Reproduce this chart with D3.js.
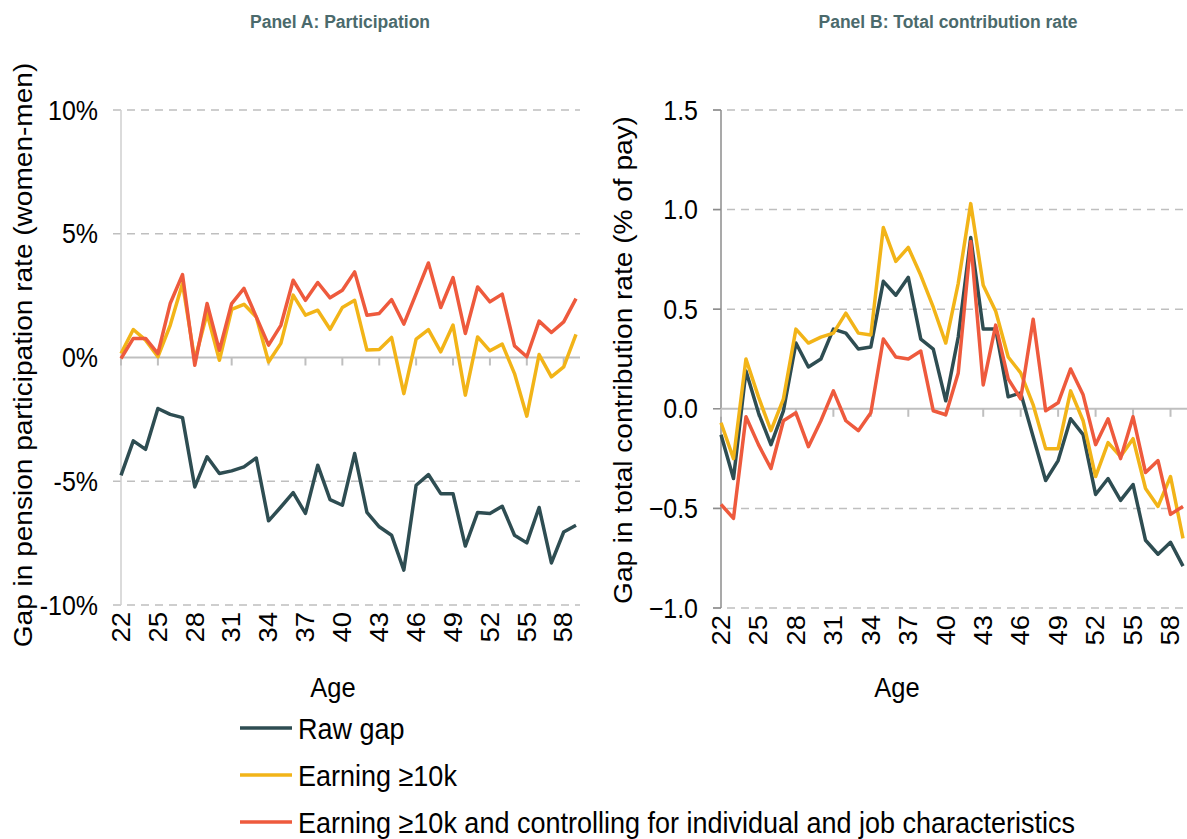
<!DOCTYPE html>
<meta charset="utf-8">
<style>
    body { margin: 0; background: #fff; }
    text { font-family: "Liberation Sans", Arial, sans-serif; fill: #000; }
    .title { font-weight: bold; font-size: 17.5px; fill: #4b6a6c; }
    .tick-label { font-size: 25px; }
    .axis-title { font-size: 25.5px; }
    .legend text { font-size: 27px; }
    .grid { stroke: #bfbfbf; stroke-width: 1.5px; stroke-dasharray: 8,6; }
    .series { fill: none; stroke-width: 3.5px; stroke-linejoin: round; }
</style>
<svg width="1187" height="839"></svg>
<script src="https://d3js.org/d3.v7.min.js"></script>
<script>

    var ages = d3.range(22, 60);
    var tickAges = [22, 25, 28, 31, 34, 37, 40, 43, 46, 49, 52, 55, 58];

    // Panel A: participation gap (percentage points)
    var partRaw = [-4.76, -3.37, -3.71, -2.06, -2.3, -2.43, -5.23, -4.01, -4.69, -4.58,
        -4.42, -4.06, -6.6, -6.04, -5.46, -6.3, -4.35, -5.74, -5.97, -3.88,
        -6.26, -6.84, -7.18, -8.59, -5.16, -4.73, -5.5, -5.5, -7.62, -6.26,
        -6.3, -6.01, -7.18, -7.49, -6.06, -8.3, -7.05, -6.78];
    var partEarn = [0.16, 1.13, 0.7, 0.03, 1.3, 2.99, -0.1, 1.78, -0.11, 1.94,
        2.15, 1.64, -0.18, 0.57, 2.52, 1.71, 1.91, 1.14, 2.02, 2.31,
        0.3, 0.32, 0.81, -1.46, 0.74, 1.13, 0.23, 1.31, -1.52, 0.83,
        0.27, 0.54, -0.65, -2.37, 0.12, -0.78, -0.38, 0.93];
    var partCtrl = [-0.04, 0.77, 0.77, 0.16, 2.18, 3.35, -0.31, 2.18, 0.29, 2.18,
        2.79, 1.64, 0.5, 1.3, 3.12, 2.31, 3.03, 2.41, 2.72, 3.46,
        1.71, 1.78, 2.34, 1.35, 2.58, 3.82, 2.02, 3.23, 0.97, 2.85,
        2.25, 2.56, 0.47, 0.03, 1.47, 1.01, 1.44, 2.38];

    // Panel B: total contribution rate gap (% of pay)
    var contRaw = [-0.13, -0.35, 0.19, -0.02, -0.18, -0.01, 0.33, 0.21, 0.25, 0.4,
        0.38, 0.3, 0.31, 0.64, 0.57, 0.66, 0.35, 0.3, 0.04, 0.36,
        0.86, 0.4, 0.4, 0.06, 0.08, -0.14, -0.36, -0.26, -0.05, -0.13,
        -0.43, -0.35, -0.46, -0.38, -0.66, -0.73, -0.67, -0.79];
    var contEarn = [-0.07, -0.25, 0.25, 0.06, -0.11, 0.05, 0.4, 0.33, 0.36, 0.38,
        0.48, 0.38, 0.37, 0.91, 0.74, 0.81, 0.67, 0.51, 0.33, 0.63,
        1.03, 0.62, 0.49, 0.26, 0.18, 0.02, -0.2, -0.2, 0.09, -0.06,
        -0.34, -0.17, -0.24, -0.15, -0.4, -0.49, -0.34, -0.65];
    var contCtrl = [-0.48, -0.55, -0.04, -0.18, -0.3, -0.06, -0.02, -0.19, -0.06, 0.09,
        -0.06, -0.11, -0.02, 0.35, 0.26, 0.25, 0.29, -0.01, -0.03, 0.18,
        0.84, 0.12, 0.42, 0.15, 0.05, 0.45, -0.01, 0.03, 0.2, 0.07,
        -0.18, -0.05, -0.25, -0.04, -0.32, -0.26, -0.53, -0.49];

    var seriesNames = ["Raw gap", "Earning \u226510k",
        "Earning \u226510k and controlling for individual and job characteristics"];
    var colors = ["#2e4d52", "#f2b418", "#ee5a3d"];

    // the source image text is a little taller than it is wide
    var stretch = 1.1;

    var svg = d3.select("svg");

    function hText(sel, x, y) {
        return sel.attr("transform", "translate(" + x + "," + y + ") scale(1," + stretch + ")");
    }
    function vText(sel, x, y) {
        return sel.attr("transform", "translate(" + x + "," + y + ") rotate(-90) scale(" + stretch + ",1)");
    }

    function drawPanel(opt) {
        var g = svg.append("g");
        var x = d3.scaleLinear().domain([22, 59]).range([opt.x0, opt.x1]);
        var y = d3.scaleLinear().domain(opt.yDomain).range([opt.y1, opt.y0]);

        // title
        hText(g.append("text").attr("class", "title"), opt.titleX, 28)
            .attr("text-anchor", "middle")
            .text(opt.title);

        // dashed gridlines (all except zero)
        g.selectAll(".grid").data(opt.yTicks.filter(function(d) { return d !== 0; }))
            .enter().append("line")
            .attr("class", "grid")
            .attr("x1", opt.x0 - 8).attr("x2", opt.x1 + 4)
            .attr("y1", function(d) { return y(d); })
            .attr("y2", function(d) { return y(d); });

        // y axis line
        g.append("line")
            .attr("x1", opt.x0).attr("x2", opt.x0)
            .attr("y1", y(opt.yDomain[1])).attr("y2", y(opt.yDomain[0]))
            .attr("stroke", opt.yAxisColor).attr("stroke-width", 1.5);

        if (opt.yTickMarks) {
            g.selectAll(".ytick").data(opt.yTicks).enter().append("line")
                .attr("x1", opt.x0 - 8).attr("x2", opt.x0)
                .attr("y1", function(d) { return y(d); })
                .attr("y2", function(d) { return y(d); })
                .attr("stroke", opt.yAxisColor).attr("stroke-width", 1.5);
        }

        // zero axis line
        g.append("line")
            .attr("x1", opt.x0).attr("x2", opt.x1 + 4)
            .attr("y1", y(0)).attr("y2", y(0))
            .attr("stroke", "#bfbfbf").attr("stroke-width", 2);

        g.selectAll(".xtick").data(tickAges).enter().append("line")
            .attr("x1", function(d) { return x(d); })
            .attr("x2", function(d) { return x(d); })
            .attr("y1", y(0)).attr("y2", y(0) + 8)
            .attr("stroke", "#bfbfbf").attr("stroke-width", 2);

        // y tick labels
        g.selectAll(".ylab").data(opt.yTicks).enter().append("text")
            .attr("class", "tick-label")
            .attr("transform", function(d) {
                return "translate(" + (opt.x0 - 23) + "," + y(d) + ") scale(1," + stretch + ")";
            })
            .attr("dy", "0.35em")
            .attr("text-anchor", "end")
            .text(opt.yFormat);

        // x tick labels (rotated)
        g.selectAll(".xlab").data(tickAges).enter().append("text")
            .attr("class", "tick-label")
            .attr("transform", function(d) {
                return "translate(" + x(d) + "," + (opt.y1 + 7) + ") rotate(-90) scale(" + stretch + ",1)";
            })
            .attr("dy", "0.35em")
            .attr("text-anchor", "end")
            .text(function(d) { return d; });

        // axis titles
        hText(g.append("text").attr("class", "axis-title"), opt.ageX, 697)
            .attr("text-anchor", "middle")
            .text("Age");

        vText(g.append("text").attr("class", "axis-title"), opt.yTitleX, opt.yTitleY)
            .attr("text-anchor", "middle")
            .text(opt.yTitle);

        // series
        var line = d3.line()
            .x(function(d, i) { return x(ages[i]); })
            .y(function(d) { return y(d); });

        opt.series.forEach(function(s, i) {
            g.append("path")
                .attr("class", "series")
                .attr("stroke", colors[i])
                .attr("d", line(s));
        });
    }

    drawPanel({
        title: "Panel A: Participation", titleX: 340,
        x0: 121, x1: 576, y0: 110, y1: 605,
        yDomain: [-10, 10], yTicks: [-10, -5, 0, 5, 10],
        yFormat: function(d) { return d + "%"; },
        yAxisColor: "#cfcfcf", yTickMarks: false,
        ageX: 333, yTitle: "Gap in pension participation rate (women-men)",
        yTitleX: 32, yTitleY: 355,
        series: [partRaw, partEarn, partCtrl]
    });

    drawPanel({
        title: "Panel B: Total contribution rate", titleX: 948,
        x0: 721, x1: 1183, y0: 110, y1: 608,
        yDomain: [-1.0, 1.5], yTicks: [-1.0, -0.5, 0, 0.5, 1.0, 1.5],
        yFormat: d3.format(".1f"),
        yAxisColor: "#8c8c8c", yTickMarks: true,
        ageX: 897, yTitle: "Gap in total contribution rate (% of pay)",
        yTitleX: 632, yTitleY: 360,
        series: [contRaw, contEarn, contCtrl]
    });

    // legend
    var legend = svg.append("g").attr("class", "legend");
    seriesNames.forEach(function(name, i) {
        var ly = 728 + i * 47;
        legend.append("line")
            .attr("x1", 240).attr("x2", 292)
            .attr("y1", ly).attr("y2", ly)
            .attr("stroke", colors[i]).attr("stroke-width", 3.5);
        hText(legend.append("text"), 298, ly + 11)
            .text(name);
    });

</script>
